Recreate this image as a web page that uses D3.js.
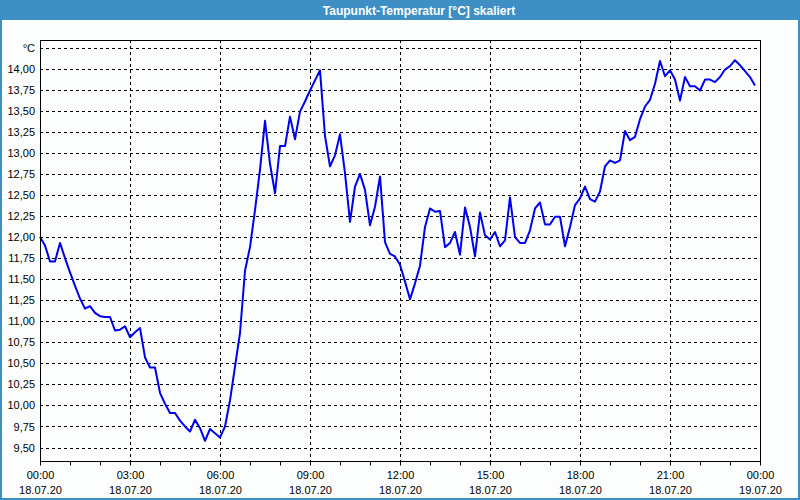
<!DOCTYPE html>
<html lang="de">
<head>
<meta charset="UTF-8">
<title>Taupunkt-Temperatur</title>
<script src="https://d3js.org/d3.v7.min.js"></script>
<style>
  body { margin: 0; background: #fff; }
  svg { display: block; font-family: "Liberation Sans", Arial, sans-serif; }
  .grid line { stroke: #000; stroke-dasharray: 3,3; stroke-width: 1; }
  .tick text { font-size: 11px; fill: #000; }
</style>
</head>
<body>
<script>
  // Messwerte alle 10 Minuten ab 18.07.20 00:00
  const startTime = new Date(2020, 6, 18, 0, 0);
  const stepMinutes = 10;
  const dewPoint = [
    12.00, 11.90, 11.71, 11.71, 11.93, 11.75, 11.58, 11.42, 11.27, 11.15,
    11.18, 11.10, 11.06, 11.05, 11.05, 10.89, 10.90, 10.94, 10.81, 10.87,
    10.92, 10.57, 10.45, 10.45, 10.15, 10.02, 9.91, 9.91, 9.82, 9.75,
    9.69, 9.83, 9.73, 9.58, 9.72, 9.67, 9.62, 9.75, 10.06, 10.46,
    10.86, 11.60, 11.88, 12.32, 12.80, 13.38, 12.87, 12.52, 13.08, 13.08,
    13.43, 13.16, 13.49, 13.61, 13.74, 13.86, 13.98, 13.20, 12.84, 12.97,
    13.22, 12.76, 12.18, 12.60, 12.75, 12.56, 12.14, 12.36, 12.72, 11.94,
    11.80, 11.77, 11.67, 11.47, 11.26, 11.45, 11.66, 12.12, 12.34, 12.30,
    12.31, 11.88, 11.93, 12.06, 11.79, 12.35, 12.12, 11.77, 12.29, 12.02,
    11.97, 12.06, 11.89, 11.96, 12.47, 12.00, 11.93, 11.93, 12.08, 12.34,
    12.41, 12.15, 12.15, 12.24, 12.24, 11.89, 12.12, 12.38, 12.46, 12.60,
    12.45, 12.42, 12.54, 12.84, 12.91, 12.88, 12.91, 13.26, 13.15, 13.19,
    13.40, 13.55, 13.63, 13.82, 14.09, 13.91, 13.98, 13.87, 13.62, 13.90,
    13.79, 13.79, 13.74, 13.87, 13.87, 13.84, 13.90, 13.99, 14.03, 14.10,
    14.04, 13.97, 13.90, 13.80
  ];
  const yTicks = [9.5, 9.75, 10, 10.25, 10.5, 10.75, 11, 11.25, 11.5, 11.75,
    12, 12.25, 12.5, 12.75, 13, 13.25, 13.5, 13.75, 14, 14.25];
  const yUnitTick = 14.25;   // dort steht die Einheit statt der Zahl
  const titleText = "Taupunkt-Temperatur [°C] skaliert";

  const W = 800, H = 500;
  const plot = { left: 40, right: 760, top: 40, bottom: 461 };

  const svg = d3.select("body").append("svg")
    .attr("width", W).attr("height", H);

  // Hintergrund, Rahmen, Titelleiste
  svg.append("rect").attr("width", W).attr("height", H).attr("fill", "#3d8fc4");
  svg.append("rect").attr("x", 2).attr("y", 20).attr("width", W - 4).attr("height", H - 22)
    .attr("fill", "#fbfefd");
  svg.append("text")
    .attr("x", 419).attr("y", 14.5)
    .attr("text-anchor", "middle")
    .attr("fill", "#fff")
    .style("font-weight", "bold").style("font-size", "12px")
    .text(titleText);

  const data = dewPoint.map((v, i) => ({ t: d3.timeMinute.offset(startTime, i * stepMinutes), v }));

  const x = d3.scaleTime()
    .domain([startTime, d3.timeDay.offset(startTime, 1)])
    .range([plot.left, plot.right]);
  const y = d3.scaleLinear()
    .domain([9.34, 14.34])
    .range([plot.bottom, plot.top]);

  // Gitter
  svg.append("g").attr("class", "grid")
    .selectAll("line").data(yTicks).join("line")
    .attr("x1", plot.left).attr("x2", plot.right)
    .attr("y1", d => Math.round(y(d)) + 0.5).attr("y2", d => Math.round(y(d)) + 0.5);

  const majorTimes = d3.timeHour.every(3).range(startTime, d3.timeMinute.offset(d3.timeDay.offset(startTime, 1), 1));
  svg.append("g").attr("class", "grid")
    .selectAll("line").data(majorTimes.slice(1, -1)).join("line")
    .attr("y1", plot.top).attr("y2", plot.bottom)
    .attr("x1", d => Math.round(x(d)) + 0.5).attr("x2", d => Math.round(x(d)) + 0.5);

  // Achsen
  const fmtTime = d3.timeFormat("%H:%M"), fmtDate = d3.timeFormat("%d.%m.%y");
  const xAxis = svg.append("g")
    .attr("transform", `translate(0,${plot.bottom + 0.5})`)
    .call(d3.axisBottom(x).ticks(d3.timeHour.every(1)).tickSize(4).tickFormat(""));
  xAxis.select(".domain").remove();
  xAxis.selectAll(".tick line").attr("stroke", "#000");

  const xLabels = svg.append("g")
    .attr("transform", `translate(0,${plot.bottom})`)
    .call(d3.axisBottom(x).tickValues(majorTimes).tickSize(0).tickPadding(0)
      .tickFormat(() => ""));
  xLabels.select(".domain").remove();
  xLabels.selectAll(".tick").each(function(d) {
    const g = d3.select(this);
    g.append("text").attr("y", 18).attr("fill", "#000").style("font-size", "11px")
      .attr("text-anchor", "middle").text(fmtTime(d));
    g.append("text").attr("y", 33).attr("fill", "#000").style("font-size", "11px")
      .attr("text-anchor", "middle").text(fmtDate(d));
  });

  const yAxis = svg.append("g")
    .attr("transform", `translate(${plot.left},0)`)
    .call(d3.axisLeft(y).tickValues(yTicks).tickSize(0).tickPadding(5)
      .tickFormat(d => d === yUnitTick ? "°C" : d3.format(".2f")(d).replace(".", ",")));
  yAxis.select(".domain").remove();

  // Linie
  svg.append("path")
    .datum(data)
    .attr("fill", "none")
    .attr("stroke", "#0000f0")
    .attr("stroke-width", 2)
    .attr("stroke-linejoin", "round")
    .attr("d", d3.line().x(d => x(d.t)).y(d => y(d.v)));

  // Rahmen des Diagramms
  svg.append("rect")
    .attr("x", plot.left + 0.5).attr("y", plot.top + 0.5)
    .attr("width", plot.right - plot.left).attr("height", plot.bottom - plot.top)
    .attr("fill", "none").attr("stroke", "#000");
</script>
</body>
</html>
